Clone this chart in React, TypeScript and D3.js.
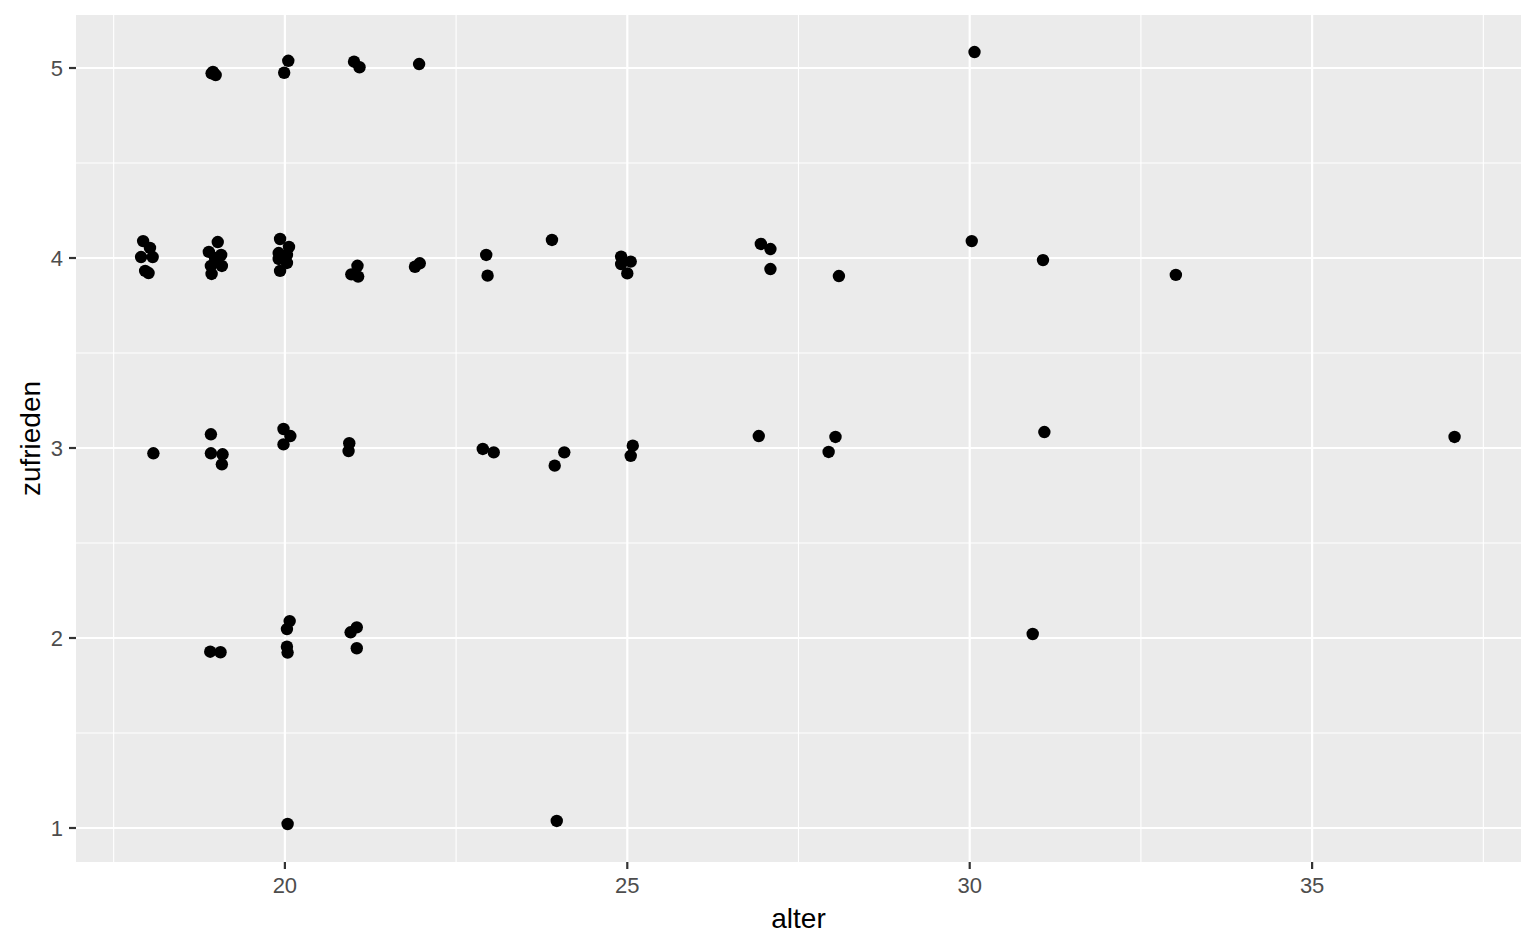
import React from "react";
import * as d3 from "d3";

const alter: number[] = [
  // zufrieden ~5
  18.93, 18.99, 18.95, 19.99, 20.05, 21.01, 21.09, 21.96, 30.07,
  // ~4
  17.93, 18.03, 17.90, 18.07, 17.96, 18.01,
  19.02, 18.89, 19.07, 18.98, 18.92, 19.08, 18.93, 18.99,
  19.93, 20.06, 19.91, 20.03, 19.91, 20.03, 19.93,
  21.06, 20.97, 21.07, 21.97, 21.90, 22.94, 22.96, 23.90,
  24.91, 24.91, 25.05, 25.00, 26.95, 27.09, 27.09, 28.09, 30.03, 31.07, 33.01,
  // ~3
  18.08, 18.92, 18.92, 19.09, 19.08, 19.98, 20.08, 19.98, 20.94, 20.93,
  22.89, 23.05, 24.08, 23.94, 25.08, 25.05, 26.92, 28.04, 27.94, 31.09, 37.08,
  // ~2
  18.91, 19.06, 20.07, 20.03, 20.03, 20.04, 21.05, 20.96, 21.05, 30.92,
  // ~1
  20.04, 23.97,
];

const zufrieden: number[] = [
  4.972, 4.963, 4.979, 4.975, 5.038, 5.033, 5.004, 5.021, 5.084,
  4.089, 4.053, 4.005, 4.005, 3.932, 3.921,
  4.084, 4.032, 4.016, 4.0, 3.958, 3.958, 3.916, 3.979,
  4.1, 4.058, 4.026, 4.016, 3.995, 3.974, 3.932,
  3.959, 3.914, 3.902, 3.972, 3.954, 4.016, 3.907, 4.095,
  4.007, 3.968, 3.981, 3.919, 4.074, 4.047, 3.942, 3.905, 4.089, 3.989, 3.911,
  2.972, 3.072, 2.972, 2.967, 2.914, 3.1, 3.063, 3.019, 3.025, 2.984,
  2.995, 2.977, 2.977, 2.907, 3.012, 2.959, 3.063, 3.058, 2.979, 3.084, 3.058,
  1.928, 1.925, 2.089, 2.047, 1.954, 1.923, 2.056, 2.03, 1.946, 2.021,
  1.021, 1.037,
];

const xTicks = [20, 25, 30, 35];
const xMinor = [17.5, 22.5, 27.5, 32.5, 37.5];
const yTicks = [1, 2, 3, 4, 5];
const yMinor = [1.5, 2.5, 3.5, 4.5];

const W = 1536;
const H = 949;
const left = 76, right = 1521, top = 15, bottom = 862;

export default function App() {
  const x = d3.scaleLinear().domain([16.95, 38.05]).range([left, right]);
  const y = d3.scaleLinear().domain([0.821, 5.279]).range([bottom, top]);
  const font = "'Liberation Sans', Arial, Helvetica, sans-serif";
  return (
    <div style={{ position: "absolute", left: 0, top: 0 }}>
      <svg width={W} height={H} style={{ display: "block", background: "#fff" }}>
        <rect x={left} y={top} width={right - left} height={bottom - top} fill="#EBEBEB" />
        {xMinor.map((t) => (
          <line key={"xm" + t} x1={x(t)} x2={x(t)} y1={top} y2={bottom} stroke="#fff" strokeWidth={1.1} />
        ))}
        {yMinor.map((t) => (
          <line key={"ym" + t} x1={left} x2={right} y1={y(t)} y2={y(t)} stroke="#fff" strokeWidth={1.1} />
        ))}
        {xTicks.map((t) => (
          <line key={"xM" + t} x1={x(t)} x2={x(t)} y1={top} y2={bottom} stroke="#fff" strokeWidth={2.2} />
        ))}
        {yTicks.map((t) => (
          <line key={"yM" + t} x1={left} x2={right} y1={y(t)} y2={y(t)} stroke="#fff" strokeWidth={2.2} />
        ))}
        {alter.map((a, i) => (
          <circle key={"p" + i} cx={x(a)} cy={y(zufrieden[i])} r={6.2} fill="#000" />
        ))}
        {xTicks.map((t) => (
          <g key={"xt" + t}>
            <line x1={x(t)} x2={x(t)} y1={bottom} y2={bottom + 7} stroke="#333" strokeWidth={2.2} />
            <text x={x(t)} y={bottom + 31} textAnchor="middle" fontFamily={font} fontSize={22} fill="#4D4D4D">
              {t}
            </text>
          </g>
        ))}
        {yTicks.map((t) => (
          <g key={"yt" + t}>
            <line x1={left - 7} x2={left} y1={y(t)} y2={y(t)} stroke="#333" strokeWidth={2.2} />
            <text x={left - 13} y={y(t)} dy="0.36em" textAnchor="end" fontFamily={font} fontSize={22} fill="#4D4D4D">
              {t}
            </text>
          </g>
        ))}
        <text x={(left + right) / 2} y={928} textAnchor="middle" fontFamily={font} fontSize={28} fill="#000">
          alter
        </text>
        <text
          transform={`translate(40, ${(top + bottom) / 2}) rotate(-90)`}
          textAnchor="middle"
          fontFamily={font}
          fontSize={28}
          fill="#000"
        >
          zufrieden
        </text>
      </svg>
    </div>
  );
}
